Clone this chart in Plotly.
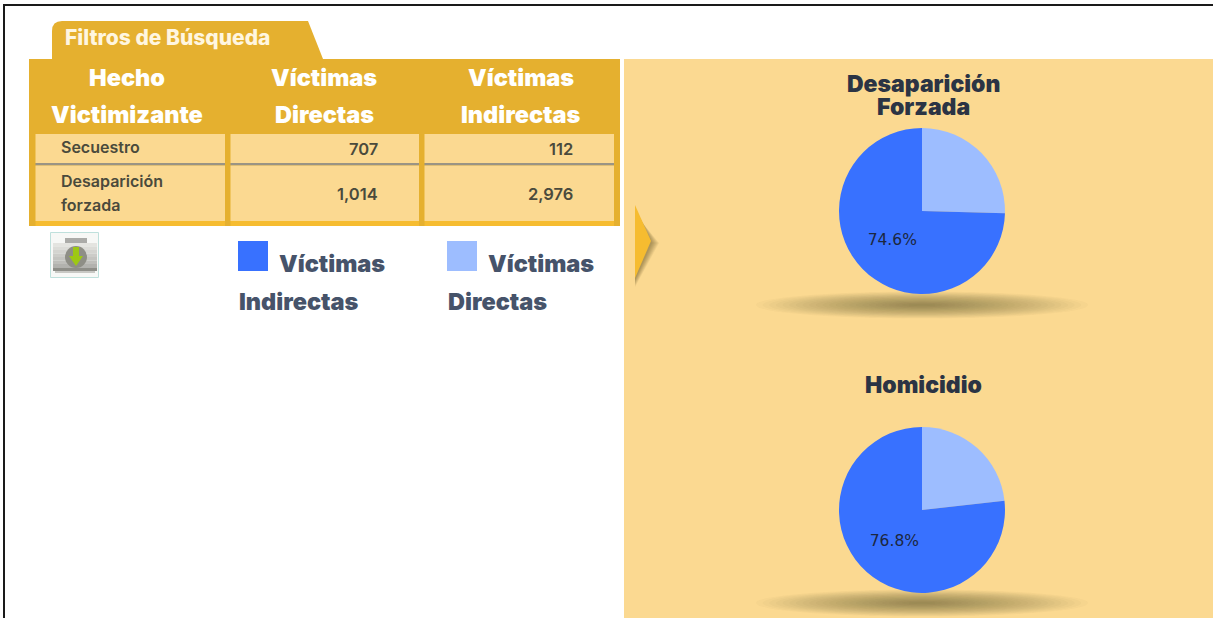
import plotly.graph_objects as go

WIDTH = 1213
HEIGHT = 618

# table contents
header_lines = [["Hecho", "Victimizante"], ["Víctimas", "Directas"], ["Víctimas", "Indirectas"]]
row_labels = [["Secuestro"], ["Desaparición", "forzada"]]
direct_victims = ["707", "1,014"]
indirect_victims = ["112", "2,976"]

# pies
pie_titles = [["Desaparición", "Forzada"], ["Homicidio"]]
pie_labels = ["Víctimas Directas", "Víctimas Indirectas"]
forced_disappearance = [1014, 2976]
homicide = [23.2, 76.8]

BLUE = "#3871FF"
LIGHT_BLUE = "#9DBDFF"
GOLD = "#E5B02F"
CREAM = "#FBD991"
BRIGHT = "#F6BC30"
DARK = "#2B3444"
SLATE = "#46536A"
BODY = "#4A4A3C"

HEAVY = "Inter"


def rect(x0, y0, x1, y1, color, **kwargs):
    return dict(type="rect", x0=x0, y0=y0, x1=x1, y1=y1, fillcolor=color,
                line=kwargs.pop("line", dict(width=0)), layer="below", **kwargs)


def label(x, y, text, size=14, color=BODY, anchor="center", weight=500, family=HEAVY):
    return dict(x=x, y=y, text=text, showarrow=False, xanchor=anchor, yanchor="middle",
                borderpad=0, font=dict(family=family, size=size, color=color, weight=weight))


shapes = []
annotations = []

# page frame
shapes.append(rect(3, 4, WIDTH + 5, 6, "#1A1A1A"))
shapes.append(rect(3, 4, 5, HEIGHT + 5, "#1A1A1A"))

# tab and table
shapes.append(dict(type="path", path="M 52 59 L 52 31 Q 52 21 62 21 L 308 21 L 323 59 Z",
                   fillcolor=GOLD, line=dict(width=0), layer="below"))
annotations.append(label(64, 37, "Filtros de Búsqueda", size=21, color="#FFF6E0", anchor="left", weight=800))
shapes.append(rect(29, 59, 620, 226, GOLD))
column_edges = [(35.5, 225), (230.5, 419), (424.5, 614)]
for left, right in column_edges:
    shapes.append(rect(left, 134, right, 163, CREAM))
    shapes.append(rect(left, 163, right, 165.5, "#9A9484"))
    shapes.append(rect(left, 165.5, right, 221, CREAM))
    shapes.append(rect(left, 221, right, 226, BRIGHT))

for lines, center in zip(header_lines, [127, 324, 521]):
    for line, y in zip(lines, [77, 114]):
        annotations.append(label(center, y, line, size=23.5, color="white", weight=900))

for line, y in zip(row_labels[0] + row_labels[1], [147, 181, 205]):
    annotations.append(label(60, y, line, size=16, anchor="left", weight=600))
for values, right in zip([direct_victims, indirect_victims], [379, 574]):
    for value, y in zip(values, [149, 194]):
        annotations.append(label(right, y, value, size=16.5, anchor="right", weight=600))

# download icon
shapes.append(rect(50.5, 232.5, 98.5, 277.5, "#F7F8F6", line=dict(color="#BFE0DC", width=1)))
shapes.append(rect(65, 238, 87, 243, "#ABABA8"))
icon_greys = ["#E4E4E0", "#DCDCD8", "#D4D4D0", "#CCCCC8", "#C4C4C0", "#BEBEBA", "#B2B2AE", "#8E8E88"]
for index, grey in enumerate(icon_greys):
    shapes.append(rect(53, 243 + index * 3.5, 97, 246.5 + index * 3.5, grey))
shapes.append(rect(55, 271, 95, 273, "#C8C8C4"))
shapes.append(dict(type="circle", x0=65, y0=246, x1=87, y1=268, fillcolor="#8E8E86",
                   line=dict(width=0), layer="below"))
shapes.append(dict(type="path", path="M 73 247 L 79 247 L 79 256 L 83 256 L 76 266 L 69 256 L 73 256 Z",
                   fillcolor="#9DC814", line=dict(width=0), layer="below"))

# legend
legend_items = [(238, BLUE, "Víctimas", "Indirectas"), (447, LIGHT_BLUE, "Víctimas", "Directas")]
for x, color, first, second in legend_items:
    shapes.append(rect(x, 241, x + 30, 271, color))
    annotations.append(label(x + 40, 263, first, size=23.5, color=SLATE, anchor="left", weight=900))
    annotations.append(label(x, 301, second, size=23.5, color=SLATE, anchor="left", weight=900))

# right panel
shapes.append(rect(624, 59, WIDTH + 5, HEIGHT + 5, CREAM))

# arrow with a soft shadow
for offset in range(1, 9):
    shapes.append(dict(type="path",
                       path=f"M 635 {206 + offset} L {651 + offset} 243 L 635 {279 + offset} Z",
                       fillcolor="#5A4A20", opacity=0.07, line=dict(width=0), layer="below"))
shapes.append(dict(type="path", path="M 635 205 L 651 241 L 635 278 Z", fillcolor=BRIGHT,
                   line=dict(width=0), layer="below"))

# soft shadows under the pies
for center_y in [305, 603]:
    for step in range(24):
        scale = 1 - step * 0.04
        shapes.append(dict(type="circle", x0=922 - 166 * scale, x1=922 + 166 * scale,
                           y0=center_y - 13.5 * scale, y1=center_y + 13.5 * scale,
                           fillcolor="#5A4A20", opacity=0.026, line=dict(width=0), layer="below"))

annotations.append(label(923, 84, pie_titles[0][0], size=23, color=DARK, weight=900))
annotations.append(label(923, 107, pie_titles[0][1], size=23, color=DARK, weight=900))
annotations.append(label(923, 385, pie_titles[1][0], size=23, color=DARK, weight=900))

fig = go.Figure()

# empty trace so the pixel axes exist
fig.add_trace(go.Scatter(x=[], y=[], showlegend=False))

for values, top in zip([forced_disappearance, homicide], [128, 427]):
    fig.add_trace(
        go.Pie(
            labels=pie_labels,
            values=values,
            sort=False,
            direction="clockwise",
            rotation=0,
            marker=dict(colors=[LIGHT_BLUE, BLUE], line=dict(width=0)),
            texttemplate=["", "%{percent:.1%}"],
            textposition="inside",
            insidetextorientation="horizontal",
            textfont=dict(family="DejaVu Sans", size=15.5, color="#1C2740"),
            showlegend=False,
            domain=dict(x=[839 / WIDTH, 1005 / WIDTH],
                        y=[1 - (top + 166) / HEIGHT, 1 - top / HEIGHT]),
        )
    )

fig.update_layout(
    width=WIDTH,
    height=HEIGHT,
    margin=dict(l=0, r=0, t=0, b=0),
    paper_bgcolor="white",
    plot_bgcolor="rgba(0,0,0,0)",
    xaxis=dict(range=[0, WIDTH], visible=False, fixedrange=True),
    yaxis=dict(range=[HEIGHT, 0], visible=False, fixedrange=True),
    shapes=shapes,
    annotations=annotations,
    showlegend=False,
)

fig.write_html(
    "out.html",
    config=dict(displayModeBar=False),
    post_script="document.body.style.margin='0';document.documentElement.style.overflow='hidden';",
)
